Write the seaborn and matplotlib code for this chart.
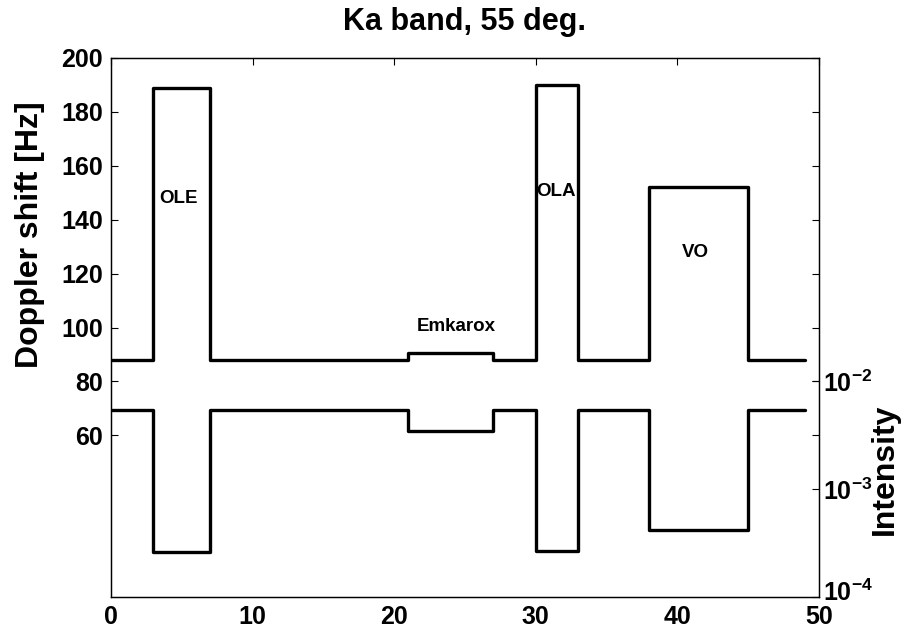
import seaborn as sns
import matplotlib.pyplot as plt
from matplotlib.ticker import FixedLocator, FixedFormatter, NullLocator
from matplotlib.transforms import ScaledTranslation

# step edges along the x axis and the level held on each step
x_edges = [0, 3, 7, 21, 27, 30, 33, 38, 45, 49]
doppler = [88, 189, 88, 90.5, 88, 190, 88, 152, 88]
intensity = [5.4e-3, 2.6e-4, 5.4e-3, 3.45e-3, 5.4e-3, 2.65e-4, 5.4e-3, 4.2e-4, 5.4e-3]

labels = ["OLE", "Emkarox", "OLA", "VO"]
label_x = [4.8, 24.4, 31.4, 41.3]
label_y = [148, 100.2, 150.3, 128]

sns.set_theme(style="white")
plt.rcParams["font.family"] = ["Liberation Sans", "DejaVu Sans"]
plt.rcParams["font.weight"] = "bold"
plt.rcParams["text.color"] = "black"
plt.rcParams["axes.labelcolor"] = "black"
plt.rcParams["mathtext.fontset"] = "custom"
plt.rcParams["mathtext.rm"] = "Liberation Sans:bold"
plt.rcParams["mathtext.it"] = "Liberation Sans:bold"
plt.rcParams["mathtext.bf"] = "Liberation Sans:bold"

fig = plt.figure(figsize=(9.12, 6.35), dpi=100)
ax = fig.add_axes([0.1217, 0.0598, 0.7763, 0.8489])
ax2 = ax.twinx()

# repeat last level so the final step reaches x = 49
sns.lineplot(x=x_edges, y=doppler + doppler[-1:], ax=ax, color="black",
             linewidth=2.4, drawstyle="steps-post", estimator=None, sort=False)
sns.lineplot(x=x_edges, y=intensity + intensity[-1:], ax=ax2, color="black",
             linewidth=2.4, drawstyle="steps-post", estimator=None, sort=False)

ax.set_xlim(0, 50)
ax.set_ylim(0, 200)
ax.set_xticks([0, 10, 20, 30, 40, 50])
ax.set_yticks([60, 80, 100, 120, 140, 160, 180, 200])
ax.tick_params(axis="both", direction="in", length=5, width=0.8, labelsize=18,
               top=True, right=True, labelright=False, pad=6, colors="black")
for t in ax.get_xticklabels() + ax.get_yticklabels():
    t.set_fontweight("bold")

ax2.set_yscale("log")
ax2.set_ylim(1e-4, 10)
ax2.yaxis.set_major_locator(FixedLocator([1e-4, 1e-3, 1e-2]))
ax2.yaxis.set_major_formatter(FixedFormatter([r"$10^{-4}$", r"$10^{-3}$", r"$10^{-2}$"]))
ax2.yaxis.set_minor_locator(NullLocator())
ax2.tick_params(axis="y", direction="in", length=5, width=0.8, labelsize=18,
                pad=3, colors="black")

# nudge the 10^-4 label up a little so it clears the "50" below it
low = ax2.yaxis.get_major_ticks()[0].label2
low.set_transform(low.get_transform() + ScaledTranslation(0, 5 / 72, fig.dpi_scale_trans))

for a in (ax, ax2):
    for s in a.spines.values():
        s.set_color("black")
        s.set_linewidth(0.9)

for name, lx, ly in zip(labels, label_x, label_y):
    ax.text(lx, ly, name, ha="center", va="center", fontsize=13.5,
            fontweight="bold", color="black")

ax.set_ylabel("Doppler shift [Hz]", fontsize=23, fontweight="bold")
ax.yaxis.set_label_coords(-0.093, 0.672)
ax2.set_ylabel("Intensity", fontsize=23, fontweight="bold")
ax2.yaxis.set_label_coords(1.072, 0.236)
ax.set_title("Ka band, 55 deg.", fontsize=22, fontweight="bold", pad=20,
             color="black")

fig.savefig("out.png", dpi=100)
